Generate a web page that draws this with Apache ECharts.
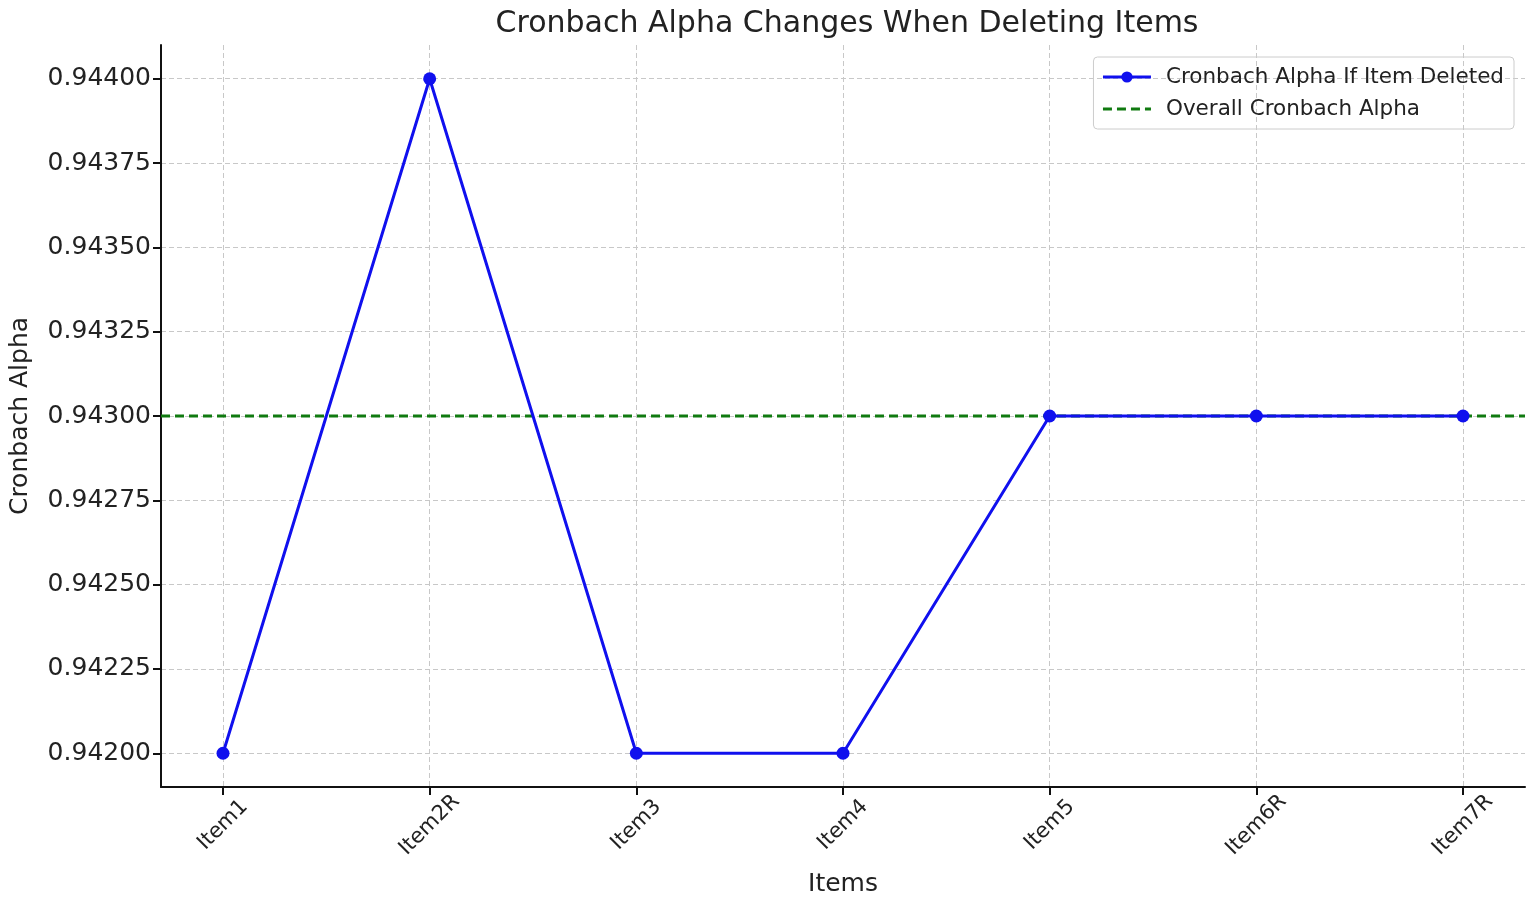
<!DOCTYPE html>
<html>
<head>
<meta charset="utf-8">
<script src="https://cdn.jsdelivr.net/npm/echarts@6/dist/echarts.min.js"></script>
<style>
  html, body { margin: 0; padding: 0; background: #fff; }
  #chart { width: 1535px; height: 902px; }
</style>
</head>
<body>
<div id="chart"></div>
<script>
var items = ['Item1', 'Item2R', 'Item3', 'Item4', 'Item5', 'Item6R', 'Item7R'];
var alphaIfDeleted = [0.942, 0.944, 0.942, 0.942, 0.943, 0.943, 0.943];
var overallAlpha = 0.943;
var yTicks = [0.942, 0.94225, 0.9425, 0.94275, 0.943, 0.94325, 0.9435, 0.94375, 0.944];

var font = 'DejaVu Sans';
var xIdx = items.map(function (x, i) { return i; });

var chart = echarts.init(document.getElementById('chart'));
chart.setOption({
  animation: false,
  textStyle: { fontFamily: font },
  title: {
    text: 'Cronbach Alpha Changes When Deleting Items',
    left: 842, textAlign: 'center', top: 4,
    textStyle: { fontFamily: font, fontSize: 30, fontWeight: 'normal', color: '#222' }
  },
  grid: { left: 158, right: 10, top: 45, bottom: 115 },
  legend: {
    right: 21, top: 57,
    orient: 'vertical',
    itemWidth: 48, itemHeight: 14, itemGap: 10,
    padding: [9, 10, 9, 8],
    borderColor: '#ccc', borderWidth: 1, borderRadius: 4,
    textStyle: { fontFamily: font, fontSize: 21.5, color: '#222', padding: [0, 0, 0, 10] },
    data: [
      { name: 'Cronbach Alpha If Item Deleted', lineStyle: { width: 3 } },
      { name: 'Overall Cronbach Alpha', itemStyle: { opacity: 0 }, lineStyle: { width: 3, type: [9, 5] } }
    ]
  },
  xAxis: {
    type: 'value', min: -0.3, max: 6.3,
    name: 'Items', nameLocation: 'middle', nameGap: 85,
    nameTextStyle: { fontFamily: font, fontSize: 25, color: '#222' },
    axisLine: { show: true, onZero: false, lineStyle: { color: '#111', width: 2 } },
    axisTick: { show: true, customValues: xIdx, length: 8, lineStyle: { color: '#111', width: 2 } },
    axisLabel: {
      customValues: xIdx, rotate: 45, align: 'center', verticalAlign: 'middle', margin: 38,
      fontFamily: font, fontSize: 21, color: '#222',
      formatter: function (v) { return items[Math.round(v)]; }
    },
    splitLine: { show: true, lineStyle: { color: '#c8c8c8', type: [5, 3], width: 1 } }
  },
  yAxis: {
    type: 'value', min: 0.9419, max: 0.9441,
    name: 'Cronbach Alpha', nameLocation: 'middle', nameGap: 128,
    nameTextStyle: { fontFamily: font, fontSize: 25, color: '#222' },
    axisLine: { show: true, onZero: false, lineStyle: { color: '#111', width: 2 } },
    axisTick: { show: true, customValues: yTicks, length: 8, lineStyle: { color: '#111', width: 2 } },
    axisLabel: {
      customValues: yTicks, margin: 10,
      fontFamily: font, fontSize: 25, color: '#222',
      formatter: function (v) { return v.toFixed(5); }
    },
    splitLine: { show: true, lineStyle: { color: '#c8c8c8', type: [5, 3], width: 1 } }
  },
  series: [
    {
      name: 'Cronbach Alpha If Item Deleted',
      type: 'line',
      data: alphaIfDeleted.map(function (v, i) { return [i, v]; }),
      symbol: 'circle', symbolSize: 13,
      lineStyle: { color: '#1010ee', width: 3 },
      itemStyle: { color: '#1010ee' },
      z: 3
    },
    {
      name: 'Overall Cronbach Alpha',
      type: 'line',
      data: [[-0.3, overallAlpha], [6.3, overallAlpha]],
      symbol: 'none',
      lineStyle: { color: '#107a10', width: 3, type: [9, 5] },
      itemStyle: { color: '#107a10' },
      z: 2
    }
  ]
});
</script>
</body>
</html>
